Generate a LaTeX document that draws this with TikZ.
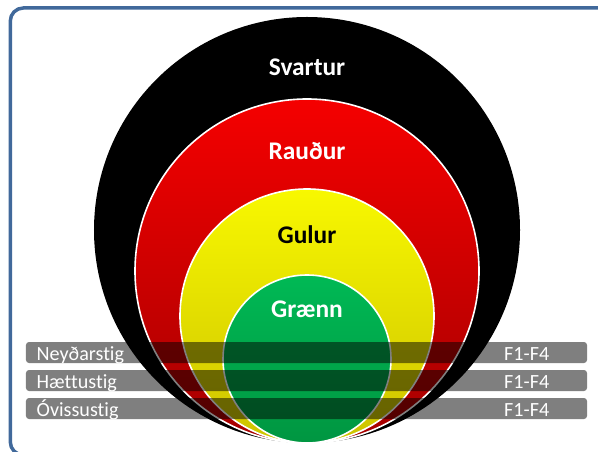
\documentclass[tikz,border=0pt]{standalone}
\usepackage{fontspec}
\setmainfont{Carlito}[Ligatures=NoCommon]
\definecolor{framecol}{RGB}{65,105,155}
\definecolor{redA}{RGB}{245,0,0}
\definecolor{redB}{RGB}{165,0,0}
\definecolor{yelA}{RGB}{248,248,0}
\definecolor{yelB}{RGB}{205,195,0}
\definecolor{grnA}{RGB}{0,185,85}
\definecolor{grnB}{RGB}{0,150,65}
\begin{document}
\begin{tikzpicture}[x=1bp,y=-1bp,
  ring/.style={draw=white, line width=1.6bp, shading angle=45},
  bar/.style={fill=black, fill opacity=0.5, rounded corners=3bp, minimum width=561bp, minimum height=21bp, inner sep=0pt, draw=none},
  bartext/.style={text=white, font=\fontsize{20.2}{20.2}\selectfont, inner sep=0pt},
  ringlabel/.style={font=\bfseries\fontsize{25.5}{25.5}\selectfont, inner sep=0pt, anchor=base}
]
\useasboundingbox (0,0) rectangle (598,452);
% frame
\draw[framecol, line width=3.5bp, rounded corners=13bp] (10.3,8) rectangle (615,455);
% circles
\fill[black] (307,230) circle[radius=213bp];
\shadedraw[ring, top color=redA, bottom color=redB] (307,271) circle[radius=172bp];
\shadedraw[ring, top color=yelA, bottom color=yelB] (307,316) circle[radius=127bp];
\shadedraw[ring, top color=grnA, bottom color=grnB] (307,359) circle[radius=84bp];
% ring labels
\node[ringlabel, text=white] (sv) at (307,76) {Svartur};
\node[ringlabel, text=white] (ra) at (307,159.5) {Rauður};
\node[ringlabel, text=black] (gu) at (307,243.5) {Gulur};
\node[ringlabel, text=white] (gr) at (307,317) {Grænn};
% bars
\node[bar] (b1) at (306.5,352.5) {};
\node[bar] (b2) at (306.5,380.5) {};
\node[bar] (b3) at (306.5,408.5) {};
\node[bartext, anchor=base west] (l1) at (36.5,360) {Neyðarstig};
\node[bartext, anchor=base west] (l2) at (36.5,388) {Hættustig};
\node[bartext, anchor=base west] (l3) at (36.5,416) {Óvissustig};
\node[bartext, anchor=base west] (r1) at (504,360) {F1-F4};
\node[bartext, anchor=base west] (r2) at (504,388) {F1-F4};
\node[bartext, anchor=base west] (r3) at (504,416) {F1-F4};
\end{tikzpicture}
\end{document}
